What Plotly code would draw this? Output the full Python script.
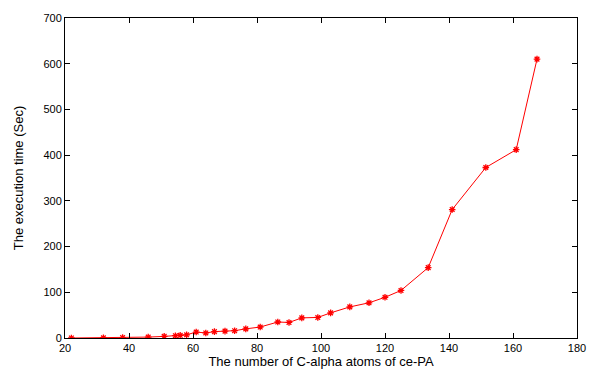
import plotly.graph_objects as go

atoms = [22, 32, 38, 46, 51, 54.5, 56, 58, 61, 64, 66.7, 70, 73, 76.5, 81,
         86.5, 90, 94, 99, 103, 109, 115, 120, 125, 133.5, 141, 151.5, 161, 167.5]
exec_time = [0, 0.5, 1, 2, 3.5, 5, 6, 7, 13, 11, 14, 15, 16, 20, 24,
             35, 34, 44, 45, 55, 68, 77, 89, 104, 154, 281, 373, 412, 610]
x_ticks = [20, 40, 60, 80, 100, 120, 140, 160, 180]
y_ticks = [0, 100, 200, 300, 400, 500, 600, 700]

FONT = "Liberation Sans, Arial, sans-serif"

fig = go.Figure()
fig.add_trace(go.Scatter(
    x=atoms, y=exec_time, mode="lines+markers",
    line=dict(color="#ff0000", width=1),
    marker=dict(symbol="asterisk-open", size=5.5, color="#ff0000",
                line=dict(color="#ff0000", width=1.3)),
    showlegend=False,
))

axis_common = dict(
    showline=True, linecolor="black", linewidth=1, mirror="ticks",
    ticks="inside", ticklen=5, tickcolor="black", tickwidth=1,
    showgrid=False, zeroline=False, automargin=False,
    tickfont=dict(family=FONT, size=11, color="black"),
)
fig.update_xaxes(range=[20, 180], tickvals=x_ticks,
                 title=dict(text="The number of C-alpha atoms of ce-PA",
                            font=dict(family=FONT, size=13, color="black"),
                            standoff=3),
                 **axis_common)
fig.update_yaxes(range=[0, 700], tickvals=y_ticks,
                 title=dict(text="The execution time (Sec)",
                            font=dict(family=FONT, size=13, color="black"),
                            standoff=16),
                 **axis_common)
fig.update_layout(
    width=589, height=381,
    margin=dict(l=65, r=12, t=18, b=43),
    plot_bgcolor="white", paper_bgcolor="white",
)
fig.write_html("out.html")
